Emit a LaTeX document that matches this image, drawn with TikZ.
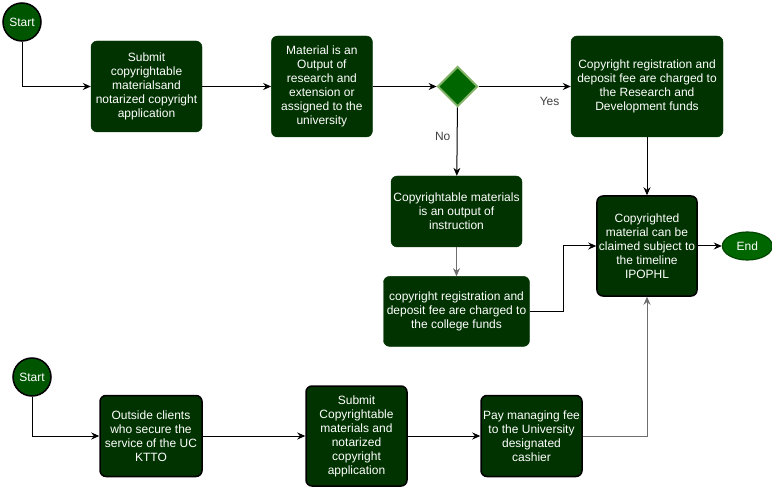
\documentclass[tikz,border=0pt]{standalone}
\usepackage{fontspec}
\setmainfont{Liberation Sans}
\usetikzlibrary{shapes.geometric, arrows.meta, positioning}
\definecolor{boxgreen}{RGB}{0, 51, 0}
\definecolor{startgreen}{RGB}{0, 85, 0}
\definecolor{decgreen}{RGB}{0, 102, 0}
\definecolor{decborder}{RGB}{130, 179, 102}
\definecolor{endborder}{RGB}{0, 70, 0}
\definecolor{arrowcolor}{RGB}{0, 0, 0}
\definecolor{linegray}{RGB}{110, 110, 110}
\tikzset{
  box/.style={rectangle, rounded corners=6bp, fill=boxgreen, text=white, align=center, inner sep=2bp, font=\fontsize{12bp}{14bp}\selectfont},
  topbox/.style={box, draw=boxgreen},
  darkbox/.style={box, draw=black, line width=1.5bp},
  startnode/.style={circle, minimum size=38bp, inner sep=0pt, fill=startgreen, draw=black, line width=1.5bp, text=white, font=\fontsize{12bp}{14bp}\selectfont},
  decision/.style={diamond, minimum width=40bp, minimum height=40bp, inner sep=0pt, fill=decgreen, draw=decborder, line width=2bp},
  endnode/.style={ellipse, minimum width=50bp, minimum height=28bp, inner sep=0pt, fill=decgreen, draw=endborder, line width=1.2bp, text=white, font=\fontsize{12bp}{14bp}\selectfont},
  lbl/.style={font=\fontsize{12bp}{14bp}\selectfont, text=black!75},
  arr/.style={-{Stealth[length=8bp, width=7bp]}, line width=1bp, color=arrowcolor},
  grayarr/.style={arr, color=linegray}
}
\begin{document}
\begin{tikzpicture}[x=1bp, y=-1bp, node distance=69bp]
  \useasboundingbox (0,0) rectangle (772,487);

  % research and extension path
  \node[startnode] (start1) at (22,22) {Start};
  \node[topbox, minimum width=111bp, minimum height=91bp] (submit) at (146.5,86.5)
    {Submit\\copyrightable\\materialsand\\notarized copyright\\application};
  \node[topbox, minimum width=101bp, minimum height=101bp, right=69bp of submit] (output)
    {Material is an\\Output of\\research and\\extension or\\assigned to the\\university};
  \node[decision, right=64bp of output] (check) {};
  \node[topbox, minimum width=152bp, minimum height=101bp] (rdfund) at (647,86.5)
    {Copyright registration and\\deposit fee are charged to\\the Research and\\Development funds};

  % instruction path
  \node[topbox, minimum width=131bp, minimum height=71bp] (instr) at (456.5,211.5)
    {Copyrightable materials\\is an output of\\instruction};
  \node[topbox, minimum width=146bp, minimum height=70bp, below=29bp of instr] (college)
    {copyright registration and\\deposit fee are charged to\\the college funds};

  \node[darkbox, minimum width=100bp, minimum height=100bp] (claim) at (647,246)
    {Copyrighted\\material can be\\claimed subject to\\the timeline\\IPOPHL};
  \node[endnode, right=24bp of claim] (finish) {End};

  % outside clients path
  \node[startnode] (start2) at (32,377) {Start};
  \node[darkbox, minimum width=102bp, minimum height=81bp] (client) at (151,436)
    {Outside clients\\who secure the\\service of the UC\\KTTO};
  \node[darkbox, minimum width=101bp, minimum height=100bp] (submit2) at (356.5,436)
    {Submit\\Copyrightable\\materials and\\notarized\\copyright\\application};
  \node[darkbox, minimum width=101bp, minimum height=81bp] (cashier) at (531.5,436)
    {Pay managing fee\\to the University\\designated\\cashier};

  \draw[arr] (start1.south) |- (submit.west);
  \draw[arr] (submit) -- (output);
  \draw[arr] (output) -- (check);
  \draw[arr] (check) -- node[lbl, pos=0.77, below=7bp] {Yes} (rdfund);
  \draw[arr] (check) -- node[lbl, pos=0.42, left=3bp] {No} (instr);
  \draw[grayarr] (instr) -- (college);
  \draw[arr] (college.east) -- ++(34,0) |- (claim.west);
  \draw[arr] (rdfund) -- (claim);
  \draw[arr] (claim) -- (finish);

  \draw[arr] (start2.south) |- (client.west);
  \draw[arr] (client) -- (submit2);
  \draw[arr] (submit2) -- (cashier);
  \draw[grayarr] (cashier.east) -| (claim.south);

\end{tikzpicture}
\end{document}
